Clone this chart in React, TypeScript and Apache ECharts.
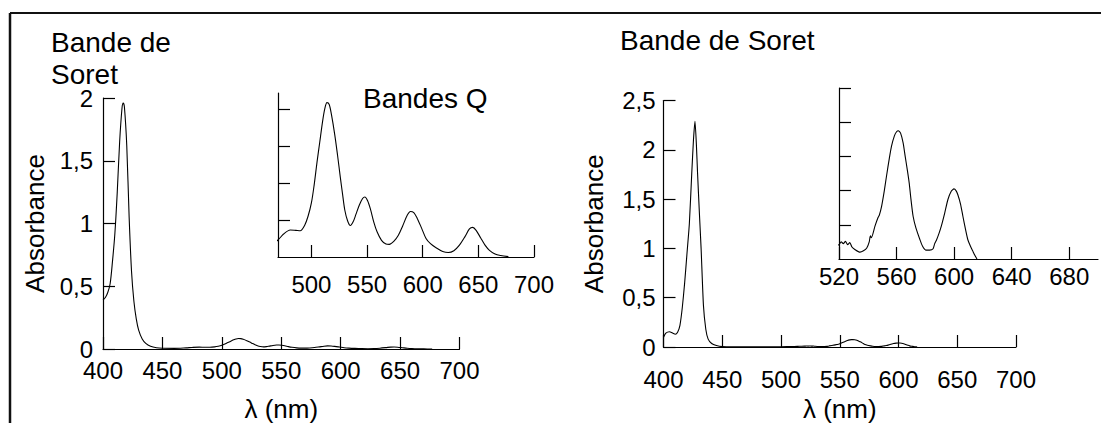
import React, { useEffect, useRef } from 'react';
import * as echarts from 'echarts';

const FONT = '"Liberation Sans", Arial, Helvetica, sans-serif';

// Spectrum of the left sample: [wavelength nm, absorbance]
const leftSpectrum: [number, number][] = [
  [400, 0.39], [402, 0.41], [404, 0.45], [406, 0.52], [408, 0.7], [410, 0.92], [412, 1.25],
  [414, 1.65], [416, 1.92], [417, 1.96], [418, 1.93], [420, 1.62], [422, 1.05], [424, 0.62],
  [426, 0.38], [428, 0.24], [430, 0.15], [433, 0.08], [436, 0.045], [440, 0.022], [445, 0.01],
  [450, 0.006], [460, 0.005], [470, 0.0092], [475, 0.0124], [481, 0.0146], [486, 0.0144],
  [490, 0.0142], [494, 0.0172], [497, 0.022], [500, 0.0292], [502.5, 0.039], [505, 0.051],
  [507.5, 0.062], [510, 0.073], [512, 0.08], [514, 0.0834], [516, 0.0824], [518, 0.077],
  [521, 0.066], [523.5, 0.055], [526, 0.043], [528, 0.034], [530, 0.0254], [532.5, 0.0196],
  [535, 0.017], [537.5, 0.019], [540, 0.023], [543, 0.028], [546, 0.0316], [548, 0.0324],
  [550.5, 0.0304], [553, 0.026], [556, 0.019], [559, 0.0136], [563, 0.009], [567, 0.007],
  [570, 0.0068], [574, 0.0084], [578, 0.0116], [582, 0.0168], [586, 0.0224], [589, 0.0246],
  [592, 0.024], [595, 0.021], [599, 0.0156], [603, 0.01], [607, 0.0072], [612, 0.005],
  [618, 0.003], [623, 0.0024], [628, 0.0034], [633, 0.0064], [638, 0.011], [642, 0.0152],
  [645, 0.016], [648, 0.0144], [652, 0.0104], [656, 0.0064], [660, 0.0036], [665, 0.0016],
  [670, 0.0008], [677, 0.0002],
];

// Spectrum of the right sample: [wavelength nm, absorbance]
const rightSpectrum: [number, number][] = [
  [400, 0.1], [402, 0.14], [405, 0.155], [408, 0.14], [410, 0.13], [412, 0.15], [414, 0.22],
  [416, 0.4], [418, 0.65], [420, 0.95], [422, 1.25], [424, 1.75], [425.5, 2.1], [426.8, 2.29],
  [428, 2.05], [429, 1.76], [430.5, 1.37], [432, 1.0], [434, 0.42], [436, 0.18], [438, 0.08],
  [441, 0.035], [445, 0.015], [450, 0.004], [460, 0.002], [480, 0.002], [500, 0.003],
  [510, 0.004], [516, 0.007], [520, 0.0084], [521.5, 0.01], [523, 0.009], [524.5, 0.0104],
  [526, 0.0084], [527.5, 0.0096], [529, 0.007], [531, 0.0056], [534.6, 0.004], [537, 0.0048],
  [539.3, 0.0064], [541, 0.01], [541.8, 0.0136], [542.5, 0.0124], [545, 0.0192], [547, 0.024],
  [548, 0.0256], [549.6, 0.0308], [551.5, 0.04], [553, 0.0484], [555, 0.059], [556.5, 0.066],
  [558.5, 0.072], [560, 0.0744], [561.2, 0.075], [562.8, 0.0736], [564.6, 0.0678], [566, 0.06],
  [567.5, 0.052], [568.8, 0.0444], [570, 0.035], [571.5, 0.025], [573.5, 0.018], [576.2, 0.0114],
  [578, 0.0076], [580.3, 0.0052], [583, 0.0052], [585.4, 0.006], [586.5, 0.009], [587.7, 0.011],
  [589.5, 0.015], [591.1, 0.0192], [593.5, 0.027], [595.7, 0.0348], [598, 0.0396], [599.9, 0.041],
  [601.3, 0.04], [602.6, 0.0376], [604.5, 0.032], [606.1, 0.025], [608, 0.017], [609.5, 0.0114],
  [611.3, 0.0076], [613, 0.0046], [614.5, 0.002], [615.9, 0],
];

// Tick values
const leftInsetXTicks = [500, 550, 600, 650, 700];
const leftInsetYTicks = [0.02, 0.04, 0.06, 0.08];
const rightInsetXTicks = [520, 560, 600, 640, 680];
const rightInsetYTicks = [0.02, 0.04, 0.06, 0.08, 0.1];

const titleTexts = {
  leftTop1: 'Bande de',
  leftTop2: 'Soret',
  leftInset: 'Bandes Q',
  rightTop: 'Bande de Soret',
};

const AXIS_COLOR = '#000';
const TICK_FONT = 24;
const NAME_FONT = 26;
const TITLE_FONT = 28;

const comma = (v: number) => String(v).replace('.', ',');

function axisBase(labelMargin: number, showLabel: boolean) {
  return {
    axisLine: { show: true, onZero: false, lineStyle: { color: AXIS_COLOR, width: 1.2 } },
    axisTick: { show: true, inside: true, length: 12, lineStyle: { color: AXIS_COLOR, width: 1.2 } },
    splitLine: { show: false },
    axisLabel: {
      show: showLabel,
      margin: labelMargin,
      color: '#000',
      fontSize: TICK_FONT,
      lineHeight: 20,
      fontFamily: FONT,
      formatter: comma,
    },
  };
}

export default function App() {
  const ref = useRef<HTMLDivElement>(null);

  useEffect(() => {
    const chart = echarts.init(ref.current!, null, { renderer: 'svg' });
    const nameStyle = { color: '#000', fontSize: NAME_FONT, fontFamily: FONT };
    const titleFont = `${TITLE_FONT}px ${FONT}`;

    const option: any = {
      animation: false,
      backgroundColor: '#fff',
      grid: [
        { left: 103, top: 98, width: 356.5, height: 251, outerBoundsMode: 'none' },
        { left: 278, top: 93, width: 256, height: 164, outerBoundsMode: 'none' },
        { left: 663.5, top: 100.5, width: 352.5, height: 246.5, outerBoundsMode: 'none' },
        { left: 839, top: 88, width: 259, height: 171, outerBoundsMode: 'none' },
      ],
      xAxis: [
        {
          ...axisBase(11, true), type: 'value', gridIndex: 0, min: 400, max: 700, interval: 50,
          name: 'λ (nm)', nameLocation: 'middle', nameGap: 47, nameTextStyle: nameStyle,
        },
        (() => {
          const b: any = axisBase(17, true);
          b.axisTick.customValues = leftInsetXTicks;
          b.axisLabel.customValues = leftInsetXTicks;
          return { ...b, type: 'value', gridIndex: 1, min: 470, max: 700 };
        })(),
        {
          ...axisBase(22, true), type: 'value', gridIndex: 2, min: 400, max: 700, interval: 50,
          name: 'λ (nm)', nameLocation: 'middle', nameGap: 49, nameTextStyle: nameStyle,
        },
        (() => {
          const b: any = axisBase(7, true);
          b.axisTick.customValues = rightInsetXTicks;
          b.axisLabel.customValues = rightInsetXTicks;
          return { ...b, type: 'value', gridIndex: 3, min: 520, max: 700 };
        })(),
      ],
      yAxis: [
        {
          ...axisBase(10, true), type: 'value', gridIndex: 0, min: 0, max: 2, interval: 0.5,
          name: 'Absorbance', nameLocation: 'middle', nameGap: 55, nameTextStyle: nameStyle,
        },
        (() => {
          const b: any = axisBase(8, false);
          b.axisTick.customValues = leftInsetYTicks;
          return { ...b, type: 'value', gridIndex: 1, min: 0, max: 0.0886 };
        })(),
        {
          ...axisBase(8, true), type: 'value', gridIndex: 2, min: 0, max: 2.5, interval: 0.5,
          name: 'Absorbance', nameLocation: 'middle', nameGap: 57, nameTextStyle: nameStyle,
        },
        (() => {
          const b: any = axisBase(8, false);
          b.axisTick.customValues = rightInsetYTicks;
          return { ...b, type: 'value', gridIndex: 3, min: 0, max: 0.1 };
        })(),
      ],
      series: [
        { data: leftSpectrum, xAxisIndex: 0, yAxisIndex: 0, smooth: 0.3 },
        { data: leftSpectrum, xAxisIndex: 1, yAxisIndex: 1, smooth: 0.3 },
        { data: rightSpectrum, xAxisIndex: 2, yAxisIndex: 2, smooth: 0.2 },
        { data: rightSpectrum, xAxisIndex: 3, yAxisIndex: 3, smooth: 0.2 },
      ].map((s) => ({
        ...s,
        type: 'line',
        showSymbol: false,
        symbol: 'none',
        clip: true,
        silent: true,
        lineStyle: { color: '#000', width: 1.1 },
      })),
      graphic: [
        { type: 'line', shape: { x1: 10, y1: 13, x2: 1101, y2: 13 }, style: { stroke: '#111', lineWidth: 2 } },
        { type: 'line', shape: { x1: 10, y1: 13, x2: 10, y2: 423 }, style: { stroke: '#111', lineWidth: 2.5 } },
        {
          type: 'text', x: 51, y: 42,
          style: { text: titleTexts.leftTop1, font: titleFont, lineHeight: 28, fill: '#000', verticalAlign: 'middle' },
        },
        {
          type: 'text', x: 51, y: 74,
          style: { text: titleTexts.leftTop2, font: titleFont, lineHeight: 28, fill: '#000', verticalAlign: 'middle' },
        },
        {
          type: 'text', x: 363, y: 98,
          style: { text: titleTexts.leftInset, font: titleFont, lineHeight: 28, fill: '#000', verticalAlign: 'middle' },
        },
        {
          type: 'text', x: 620, y: 40,
          style: { text: titleTexts.rightTop, font: titleFont, lineHeight: 28, fill: '#000', verticalAlign: 'middle' },
        },
      ],
    };

    chart.setOption(option);
    return () => chart.dispose();
  }, []);

  return (
    <div
      ref={ref}
      style={{ position: 'fixed', left: 0, top: 0, width: 1101, height: 423, background: '#fff' }}
    />
  );
}
